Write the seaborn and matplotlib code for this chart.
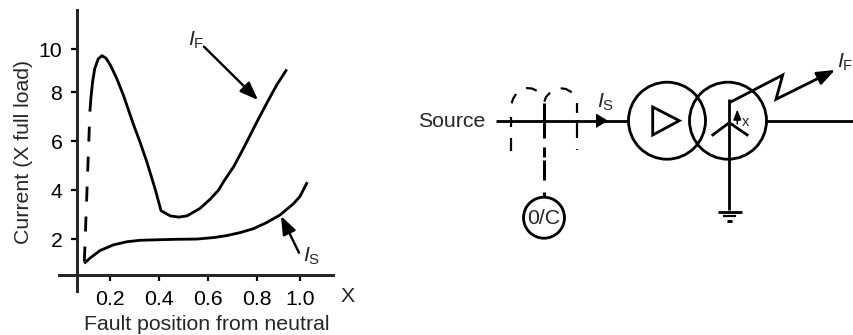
# plot.py
# Fault current vs fault position, with the protection schematic next to it

import numpy as np
import pandas as pd
import matplotlib
matplotlib.use("Agg")
import matplotlib.pyplot as plt
from matplotlib.patches import Circle, Polygon
import seaborn as sns

# ── Data ────────────────────────────────────────────────
if_x = [0.118, 0.122, 0.129, 0.138, 0.152, 0.167, 0.184, 0.203, 0.227, 0.254,
        0.295, 0.322, 0.350, 0.384, 0.407, 0.445, 0.479, 0.513, 0.567, 0.608, 0.642,
        0.663, 0.704, 0.744, 0.799, 0.844, 0.891, 0.938]
if_y = [7.20, 7.74, 8.48, 9.11, 9.55, 9.70, 9.58, 9.23, 8.64, 7.88,
        6.68, 5.95, 5.13, 4.01, 3.16, 2.95, 2.90, 2.95, 3.26, 3.63, 4.00,
        4.35, 4.96, 5.71, 6.79, 7.54, 8.33, 9.06]
rise_x = [0.118, 0.095]
rise_y = [7.20, 1.02]
is_x = [0.095, 0.118, 0.159, 0.213, 0.268, 0.322, 0.390, 0.471, 0.553, 0.622,
        0.675, 0.729, 0.784, 0.844, 0.907, 0.969, 1.000, 1.034]
is_y = [1.02, 1.23, 1.54, 1.77, 1.90, 1.96, 1.98, 2.00, 2.01, 2.07,
        2.15, 2.27, 2.43, 2.68, 2.99, 3.44, 3.74, 4.32]
x_ticks = [0.2, 0.4, 0.6, 0.8, 1.0]
x_tick_labels = ["0.2", "0.4", "0.6", "0.8", "1.0"]
y_ticks = [2, 4, 6, 8, 10]

# ── Config ──────────────────────────────────────────────
W, H = 854, 335
PT = 0.72   # one pixel at dpi 100, in points
FS = 15.3
LW = 2.8

sns.set_style("ticks")
plt.rcParams["font.family"] = ["Liberation Sans", "DejaVu Sans"]
plt.rcParams["lines.scale_dashes"] = False
plt.rcParams["mathtext.fontset"] = "custom"
plt.rcParams["mathtext.rm"] = "Liberation Sans"
plt.rcParams["mathtext.it"] = "Liberation Sans:italic"

# the drawn axis is not quite even, so the ticks follow where they really sit
X_KNOTS = [-0.2, 0.2, 0.4, 0.6, 0.8, 1.0, 1.4]
X_PIX = [12.0, 110.0, 159.3, 208.3, 257.3, 300.0, 385.4]
Y_KNOTS = [-2, 2, 4, 6, 8, 10, 14]
Y_PIX = [-2.5, 95.7, 145.0, 194.0, 243.0, 285.7, 371.1]


def fwd_x(v):
    return np.interp(v, X_KNOTS, X_PIX)


def inv_x(p):
    return np.interp(p, X_PIX, X_KNOTS)


def fwd_y(v):
    return np.interp(v, Y_KNOTS, Y_PIX)


def inv_y(p):
    return np.interp(p, Y_PIX, Y_KNOTS)


fig = plt.figure(figsize=(W / 100, H / 100), dpi=100)

# ── Chart ───────────────────────────────────────────────
left, right, top, bottom = 59.3, 332.7, 10.0, 290.7
ax = fig.add_axes([left / W, (H - bottom) / H,
                   (right - left) / W, (bottom - top) / H])
ax.patch.set_alpha(0)

curve = dict(color="black", linewidth=LW * PT, estimator=None, errorbar=None,
             sort=False, ax=ax)
sns.lineplot(data=pd.DataFrame({"x": if_x, "y": if_y}), x="x", y="y",
             solid_capstyle="butt", solid_joinstyle="round", **curve)
sns.lineplot(data=pd.DataFrame({"x": is_x, "y": is_y}), x="x", y="y",
             solid_capstyle="butt", solid_joinstyle="round", **curve)
sns.lineplot(data=pd.DataFrame({"x": rise_x, "y": rise_y}), x="x", y="y",
             linestyle=(15 * PT, (15 * PT, 15 * PT)), dash_capstyle="butt",
             **curve)

ax.set_xscale("function", functions=(fwd_x, inv_x))
ax.set_yscale("function", functions=(fwd_y, inv_y))
ax.set_xlim(float(inv_x(left)), float(inv_x(right)))
ax.set_ylim(float(inv_y(H - bottom)), float(inv_y(H - top)))
ax.set_xticks(x_ticks)
ax.set_xticklabels(x_tick_labels)
ax.set_yticks(y_ticks)
ax.minorticks_off()

ax.spines["top"].set_visible(False)
ax.spines["right"].set_visible(False)
ax.spines["left"].set_position(("data", float(inv_x(77.3))))
ax.spines["bottom"].set_position(("data", float(inv_y(H - 275.0))))
ax.spines["left"].set_linewidth(3 * PT)
ax.spines["bottom"].set_linewidth(3 * PT)
ax.tick_params(length=6 * PT, width=2.2 * PT, pad=6.5, labelsize=FS,
               colors="black")

ax.set_xlabel("Fault position from neutral", fontsize=FS)
ax.set_ylabel("Current (X full load)", fontsize=FS)
ax.xaxis.set_label_coords((207 - left) / (right - left), (bottom - 334) / (bottom - top),
                          transform=ax.transAxes)
ax.xaxis.label.set_verticalalignment("bottom")
ax.yaxis.set_label_coords((33 - left) / (right - left), (bottom - 152) / (bottom - top),
                          transform=ax.transAxes)

# ── Overlay in pixel coordinates: labels, arrows, schematic ─
ov = fig.add_axes([0, 0, 1, 1])
ov.set_xlim(0, W)
ov.set_ylim(H, 0)
ov.axis("off")


def wire(xs, ys, lw=LW, cap="butt", **kw):
    ov.plot(xs, ys, color="black", linewidth=lw * PT, solid_capstyle=cap,
            solid_joinstyle="miter", **kw)


def arrow(start, end, lw=2.4, scale=10):
    ov.annotate("", xy=end, xytext=start,
                arrowprops=dict(arrowstyle="-|>,head_length=1.1,head_width=0.42",
                                mutation_scale=scale, color="black", lw=lw * PT,
                                shrinkA=0, shrinkB=0))


def sub_label(x, y, letter):
    # x, y is where the italic I sits
    ov.text(x - 3, y + 8, rf"$\mathit{{I}}_{{\mathrm{{{letter}}}}}$", fontsize=FS,
            ha="left", va="baseline")


ov.text(348, 296, "X", fontsize=FS, ha="center", va="center")
sub_label(191, 38, "F")
arrow((204, 46.7), (258, 100))
sub_label(306.5, 254, "S")
arrow((299, 252.7), (281, 216))

# source side
ov.text(451.5, 121.5, "Source", fontsize=FS, ha="center", va="center")
wire([496, 628], [120.7, 120.7])
ov.add_patch(Polygon([[596, 113.5], [596, 128], [608, 120.7]], closed=True,
                     color="black", lw=0))
sub_label(600, 100, "S")

# breaker, dashed
wire([511, 511], [116.7, 126.7], lw=2.2)
wire([511, 511], [138.3, 150.7], lw=2.2)
for y0, y1 in [(103.3, 138.3), (146.7, 156.7), (160, 180), (191.7, 196.7)]:
    wire([544.3, 544.3], [y0, y1], lw=3)
wire([576.7, 576.7], [103, 113], lw=2.2)
wire([576.7, 576.7], [120, 138], lw=2.2)
wire([576.7, 576.7], [148.5, 150], lw=2.2)
wire([511.7, 513, 516], [103.3, 99, 94], lw=2.2)
wire([526, 532, 536.7], [88, 88.5, 90.7], lw=2.2)
wire([544.3, 546, 550], [101.7, 97, 92.7], lw=2.2)
wire([560.7, 566, 571.7], [88.3, 89, 92.3], lw=2.2)

# overcurrent relay
ov.add_patch(Circle((544, 217.7), 20.5, fill=False, ec="black", lw=LW * PT))
ov.text(544, 218, "0/C", fontsize=FS, ha="center", va="center")

# transformer windings
ov.add_patch(Circle((667, 120.7), 38.5, fill=False, ec="black", lw=LW * PT))
ov.add_patch(Circle((728, 120.7), 38.5, fill=False, ec="black", lw=LW * PT))
ov.add_patch(Polygon([[652.7, 107], [652.7, 135], [679.3, 120.7]], closed=True,
                     fill=False, ec="black", lw=LW * PT))
wire([766.5, 854], [120.7, 120.7])

# star point, earth and the fault
wire([729.3, 729.3], [98.5, 210])
wire([711.7, 729.3, 748.3], [135.7, 122.7, 135.7])
wire([718, 742], [211.7, 211.7])
wire([723, 736], [216.3, 216.3], lw=2.2)
wire([727, 732], [221, 221], lw=3)
arrow((737.3, 124), (737.3, 109.5), lw=1.5, scale=5.5)
ov.text(745.5, 121.5, "x", fontsize=10.5, ha="center", va="center")
wire([729.3, 782.7, 776, 825], [102.7, 75, 99.3, 75])
arrow((820, 77.5), (835, 70))
sub_label(840.5, 60, "F")

fig.savefig("out.png", dpi=100)
